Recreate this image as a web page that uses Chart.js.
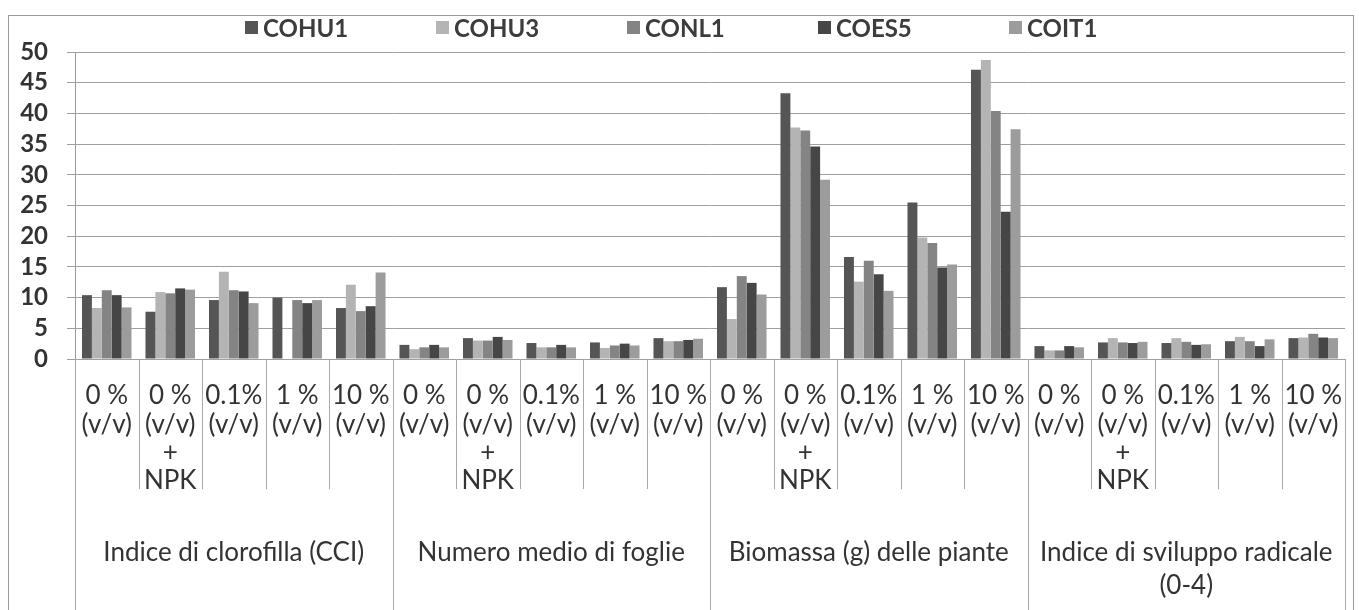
<!DOCTYPE html>
<html>
<head>
<meta charset="utf-8">
<script src="https://cdn.jsdelivr.net/npm/chart.js@4.4.0/dist/chart.umd.min.js"></script>
<style>
    body { margin: 0; background: #fff; overflow: hidden; }
    #frame { position: absolute; left: 8px; top: 15px; width: 1344px; height: 660px; border: 1px solid #9a9a9a; }
    #chart { position: absolute; left: 0; top: 0; }
    #legend { position: absolute; top: 13px; left: 245px; display: flex; font-family: Lato, sans-serif; font-weight: bold; font-size: 24px; color: #3c3c3c; }
    .item { width: 191px; display: flex; align-items: center; }
    .box { width: 13px; height: 13px; margin-right: 5px; }
</style>
</head>
<body>
<div id="frame"></div>
<canvas id="chart" width="1359" height="610"></canvas>
<div id="legend"></div>
<script>
        const seriesNames = ['COHU1', 'COHU3', 'CONL1', 'COES5', 'COIT1'];
        const seriesColors = ['#555555', '#b4b4b4', '#848484', '#464646', '#9c9c9c'];

        const doseLabels = [['0 %', '(v/v)'], ['0 %', '(v/v)', '+', 'NPK'], ['0.1%', '(v/v)'], ['1 %', '(v/v)'], ['10 %', '(v/v)']];
        const groupLabels = ['Indice di clorofilla (CCI)', 'Numero medio di foglie', 'Biomassa (g) delle piante', ['Indice di sviluppo radicale', '(0-4)']];
        const yMax = 50;
        const yStep = 5;

        // one value per dose, groups in order: clorofilla, foglie, biomassa, radicale
        const cohu1 = [10.4, 7.7, 9.6, 10.0, 8.3,   2.3, 3.4, 2.6, 2.7, 3.4,   11.7, 43.3, 16.6, 25.5, 47.1,   2.1, 2.7, 2.6, 2.9, 3.4];
        const cohu3 = [8.3, 10.9, 14.2, null, 12.1,  1.6, 3.0, 1.9, 1.8, 2.9,   6.5, 37.7, 12.6, 19.8, 48.7,    1.4, 3.4, 3.4, 3.6, 3.5];
        const conl1 = [11.2, 10.7, 11.2, 9.6, 7.8,   1.9, 3.0, 1.9, 2.2, 2.9,   13.5, 37.2, 16.0, 18.9, 40.4,   1.4, 2.7, 2.8, 2.9, 4.1];
        const coes5 = [10.4, 11.5, 11.0, 9.1, 8.6,   2.3, 3.6, 2.3, 2.5, 3.1,   12.4, 34.6, 13.8, 14.9, 24.0,   2.1, 2.6, 2.3, 2.1, 3.5];
        const coit1 = [8.4, 11.3, 9.1, 9.6, 14.1,    1.9, 3.1, 1.9, 2.2, 3.3,   10.5, 29.2, 11.1, 15.4, 37.4,   1.9, 2.8, 2.4, 3.2, 3.4];

        const seriesValues = [cohu1, cohu3, conl1, coes5, coit1];
        const categories = [];
        groupLabels.forEach(() => doseLabels.forEach(d => categories.push(d)));

        const fontFamily = 'Lato, sans-serif';
        const textColor = '#333333';

        // vertical separators below the plot, long ones between groups
        const separators = {
            id: 'separators',
            afterDraw(chart) {
                const x = chart.scales.x;
                const ctx = chart.ctx;
                const n = categories.length;
                const step = (x.right - x.left) / n;
                ctx.save();
                ctx.strokeStyle = '#a8a8a8';
                ctx.lineWidth = 1;
                for (let i = 0; i <= n; i++) {
                    const px = Math.round(x.left + i * step) + 0.5;
                    ctx.beginPath();
                    ctx.moveTo(px, chart.chartArea.bottom);
                    ctx.lineTo(px, i % doseLabels.length === 0 ? chart.height : x.bottom);
                    ctx.stroke();
                }
                ctx.restore();
            }
        };

        // labels may overhang the plot edges, like in the original
        const noSidePadding = s => { s.paddingLeft = 0; s.paddingRight = 0; };

        const datasets = seriesNames.map((name, i) => ({
            label: name,
            data: seriesValues[i],
            backgroundColor: seriesColors[i],
            borderWidth: 0,
            categoryPercentage: 0.78,
            barPercentage: 1.0
        }));

        new Chart(document.getElementById('chart'), {
            type: 'bar',
            data: { labels: categories, datasets: datasets },
            options: {
                responsive: false,
                animation: false,
                devicePixelRatio: 1,
                layout: { padding: { top: 52, right: 14, left: 0, bottom: 0 } },
                plugins: { legend: { display: false }, tooltip: { enabled: false } },
                scales: {
                    x: {
                        weight: 0,
                        grid: { display: false },
                        border: { display: false },
                        ticks: {
                            autoSkip: false,
                            maxRotation: 0,
                            padding: 15,
                            color: textColor,
                            font: { family: fontFamily, size: 26, lineHeight: 1.08 }
                        },
                        afterFit: s => { s.height = 130; noSidePadding(s); }
                    },
                    x2: {
                        type: 'category',
                        labels: groupLabels,
                        position: 'bottom',
                        weight: 1,
                        offset: true,
                        grid: { display: false },
                        border: { display: false },
                        ticks: {
                            maxRotation: 0,
                            padding: 39,
                            color: textColor,
                            font: { family: fontFamily, size: 26, lineHeight: 1.27 }
                        },
                        afterFit: s => { s.height = 121; noSidePadding(s); }
                    },
                    y: {
                        min: 0,
                        max: yMax,
                        grid: { color: '#a0a0a0', tickLength: 8 },
                        border: { color: '#9a9a9a' },
                        ticks: {
                            stepSize: yStep,
                            autoSkip: false,
                            padding: 19,
                            color: textColor,
                            font: { family: fontFamily, size: 24, weight: 'bold' }
                        },
                        afterFit: s => { s.width = 75; }
                    }
                }
            },
            plugins: [separators]
        });

        const legend = document.getElementById('legend');
        seriesNames.forEach((name, i) => {
            const item = document.createElement('div');
            item.className = 'item';
            item.innerHTML = `<span class="box" style="background:${seriesColors[i]}"></span><span>${name}</span>`;
            legend.appendChild(item);
        });
</script>
</body>
</html>
